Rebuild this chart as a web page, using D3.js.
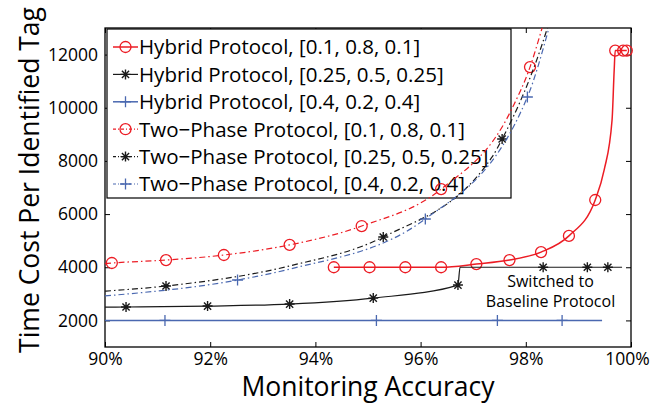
<!DOCTYPE html>
<html>
<head>
<meta charset="utf-8">
<script src="https://cdn.jsdelivr.net/npm/d3@7"></script>
<style>
  html, body { margin: 0; padding: 0; background: #fff; }
  svg { display: block; }
  text { font-family: "Open Sans", Lato, sans-serif; fill: #000; }
</style>
</head>
<body>
<svg id="chart" width="652" height="404"></svg>
<script>
// ---- data ----
const xTicks = [90, 92, 94, 96, 98, 100];
const yTicks = [2000, 4000, 6000, 8000, 10000, 12000];
const xTickLabels = ["90%", "92%", "94%", "96%", "98%", "100%"];

// Hybrid protocol, [0.1, 0.8, 0.1]
const hybridA_line = [[94.35,4000],[95.03,4000],[95.71,4000],[96.39,4000],[97.06,4120],[97.69,4270],[98.29,4570],[98.82,5180],[99.32,6530],[99.49,7660],[99.64,9540],[99.68,11400],[99.70,12150],[99.85,12150],[99.92,12150]];
const hybridA_marks = [[94.35,4000],[95.03,4000],[95.71,4000],[96.39,4000],[97.06,4120],[97.69,4270],[98.29,4570],[98.82,5180],[99.32,6530],[99.70,12150],[99.85,12150],[99.92,12150]];

// Hybrid protocol, [0.25, 0.5, 0.25]
const hybridB_line = [[90,2500],[90.40,2505],[91.95,2540],[93.51,2615],[95.10,2840],[96.71,3330],[96.75,4000],[98.33,4000],[99.17,4000],[99.56,4000],[99.83,4000]];
const hybridB_marks = [[90.40,2505],[91.95,2540],[93.51,2615],[95.10,2840],[96.71,3330],[98.33,4000],[99.17,4000],[99.56,4000]];

// Hybrid protocol, [0.4, 0.2, 0.4]
const hybridC_line = [[90,2000],[99.45,2000]];
const hybridC_marks = [[91.14,2000],[95.16,2000],[97.46,2000],[98.69,2000]];

// Two-phase protocol, [0.1, 0.8, 0.1]
const twoA_line = [[90,4140],[90.13,4160],[91.16,4270],[92.26,4460],[93.51,4840],[94.88,5550],[96.39,6940],[97.72,9900],[98.08,11530],[98.31,13000],[98.5,14300]];
const twoA_marks = [[90.13,4160],[91.16,4270],[92.26,4460],[93.51,4840],[94.88,5550],[96.39,6940],[98.08,11530]];

// Two-phase protocol, [0.25, 0.5, 0.25]
const twoB_line = [[90,3100],[91.16,3295],[93.51,4050],[95.29,5138],[97.36,8150],[97.55,8824],[98.41,13000],[98.7,15000]];
const twoB_marks = [[91.16,3295],[95.29,5138],[97.55,8824]];

// Two-phase protocol, [0.4, 0.2, 0.4]
const twoC_line = [[90,2920],[92.52,3520],[93.51,3930],[96.09,5815],[98.03,10404],[98.44,13000],[98.7,15000]];
const twoC_marks = [[92.52,3520],[96.09,5815],[98.03,10404]];

const legendLabels = [
  "Hybrid Protocol, [0.1, 0.8, 0.1]",
  "Hybrid Protocol, [0.25, 0.5, 0.25]",
  "Hybrid Protocol, [0.4, 0.2, 0.4]",
  "Two\u2212Phase Protocol, [0.1, 0.8, 0.1]",
  "Two\u2212Phase Protocol, [0.25, 0.5, 0.25]",
  "Two\u2212Phase Protocol, [0.4, 0.2, 0.4]"
];
const annotationLines = ["Switched to", "Baseline Protocol"];
const annotationAt = [98.47, 4000];

// ---- styles ----
const RED = "#ec1c24", BLACK = "#1a1a1a", BLUE = "#4a68b0";
const DASHDOT = "6,3,1.5,3";
const series = [
  { line: hybridA_line, marks: hybridA_marks, color: RED,   dash: null,    marker: "circle", width: 1.5 },
  { line: hybridB_line, marks: hybridB_marks, color: BLACK, dash: null,    marker: "star",   width: 1.2 },
  { line: hybridC_line, marks: hybridC_marks, color: BLUE,  dash: null,    marker: "plus",   width: 1.5 },
  { line: twoA_line,    marks: twoA_marks,    color: RED,   dash: DASHDOT, marker: "circle", width: 1.2 },
  { line: twoB_line,    marks: twoB_marks,    color: BLACK, dash: DASHDOT, marker: "star",   width: 1.2 },
  { line: twoC_line,    marks: twoC_marks,    color: BLUE,  dash: DASHDOT, marker: "plus",   width: 1.2 }
];

// ---- layout ----
const plot = { left: 105, right: 631, top: 28, bottom: 347 };
const svg = d3.select("#chart");

const x = d3.scaleLinear().domain([90, 100]).range([plot.left, plot.right]);
const y = d3.scaleLinear().domain([1000, 13000]).range([plot.bottom, plot.top]);

svg.append("defs").append("clipPath").attr("id", "plotClip")
  .append("rect")
  .attr("x", plot.left).attr("y", plot.top)
  .attr("width", plot.right - plot.left).attr("height", plot.bottom - plot.top);

// axes with inward ticks on all four sides
const TICK = 5;
const axG = svg.append("g");
const xAxisG = axG.append("g").attr("transform", `translate(0,${plot.bottom})`)
  .call(d3.axisBottom(x).tickValues(xTicks).tickSizeInner(-TICK).tickSizeOuter(0)
        .tickPadding(6).tickFormat((d, i) => xTickLabels[i]));
axG.append("g").attr("transform", `translate(0,${plot.top})`)
  .call(d3.axisTop(x).tickValues(xTicks).tickSizeInner(-TICK).tickSizeOuter(0).tickFormat(""));
axG.append("g").attr("transform", `translate(${plot.left},0)`)
  .call(d3.axisLeft(y).tickValues(yTicks).tickSizeInner(-TICK).tickSizeOuter(0)
        .tickPadding(7).tickFormat(d3.format("d")));
axG.append("g").attr("transform", `translate(${plot.right},0)`)
  .call(d3.axisRight(y).tickValues(yTicks).tickSizeInner(-TICK).tickSizeOuter(0).tickFormat(""));
axG.selectAll(".domain").remove();
axG.selectAll(".tick line").attr("stroke", "#000").attr("stroke-width", 1);
axG.selectAll(".tick text").style("font-size", "17.5px").attr("fill", "#000");
// keep the last percentage label inside the page edge
xAxisG.selectAll(".tick text").filter(d => d === 100).attr("dx", "-4");

svg.append("rect")
  .attr("x", plot.left).attr("y", plot.top)
  .attr("width", plot.right - plot.left).attr("height", plot.bottom - plot.top)
  .attr("fill", "none").attr("stroke", "#000").attr("stroke-width", 1.3);

// axis titles
svg.append("text")
  .attr("x", (plot.left + plot.right) / 2).attr("y", 396)
  .attr("text-anchor", "middle").style("font-size", "26.5px")
  .text("Monitoring Accuracy");
svg.append("text")
  .attr("transform", `translate(39,180) rotate(-90)`)
  .attr("text-anchor", "middle").style("font-size", "26.5px")
  .text("Time Cost Per Identified Tag");

// marker drawing
function drawMarker(g, type, cx, cy, color) {
  if (type === "circle") {
    g.append("circle").attr("cx", cx).attr("cy", cy).attr("r", 5.5)
      .attr("fill", "none").attr("stroke", color).attr("stroke-width", 1.3);
  } else if (type === "plus") {
    const s = 5.5;
    g.append("path").attr("d", `M${cx - s},${cy}H${cx + s}M${cx},${cy - s}V${cy + s}`)
      .attr("stroke", color).attr("stroke-width", 1.3).attr("fill", "none");
  } else {
    const s = 5, d = s * 0.72;
    g.append("path")
      .attr("d", `M${cx - s},${cy}H${cx + s}M${cx},${cy - s}V${cy + s}` +
                 `M${cx - d},${cy - d}L${cx + d},${cy + d}M${cx - d},${cy + d}L${cx + d},${cy - d}`)
      .attr("stroke", color).attr("stroke-width", 1.4).attr("fill", "none");
  }
}

// legend (data lines are drawn over it)
const leg = { x: 107, y: 29, w: 404, h: 169, rowTop: 47, rowStep: 27.4 };
const legG = svg.append("g");
legG.append("rect").attr("x", leg.x).attr("y", leg.y).attr("width", leg.w).attr("height", leg.h)
  .attr("fill", "#fff").attr("stroke", "#000").attr("stroke-width", 1.2);
series.forEach((s, i) => {
  const cy = leg.rowTop + i * leg.rowStep;
  legG.append("line").attr("x1", leg.x + 6).attr("x2", leg.x + 31).attr("y1", cy).attr("y2", cy)
    .attr("stroke", s.color).attr("stroke-width", s.width)
    .attr("stroke-dasharray", s.dash ? "3,2,1,2" : null);
  drawMarker(legG, s.marker, leg.x + 18.5, cy, s.color);
  legG.append("text").attr("x", leg.x + 32).attr("y", cy).attr("dy", "0.36em")
    .style("font-size", "20.5px").text(legendLabels[i]);
});

// data lines and markers
const lineGen = d3.line().x(d => x(d[0])).y(d => y(d[1])).curve(d3.curveMonotoneX);
const dataG = svg.append("g");
series.forEach(s => {
  dataG.append("path").datum(s.line)
    .attr("clip-path", "url(#plotClip)")
    .attr("d", lineGen)
    .attr("fill", "none").attr("stroke", s.color).attr("stroke-width", s.width)
    .attr("stroke-dasharray", s.dash);
  s.marks.filter(p => p[1] <= 13000).forEach(p => drawMarker(dataG, s.marker, x(p[0]), y(p[1]), s.color));
});

// annotation, one text element per line
annotationLines.forEach((t, i) => {
  svg.append("text").attr("text-anchor", "middle").style("font-size", "16px")
    .attr("x", x(annotationAt[0])).attr("y", y(annotationAt[1]) + 20 + i * 20).text(t);
});
</script>
</body>
</html>
